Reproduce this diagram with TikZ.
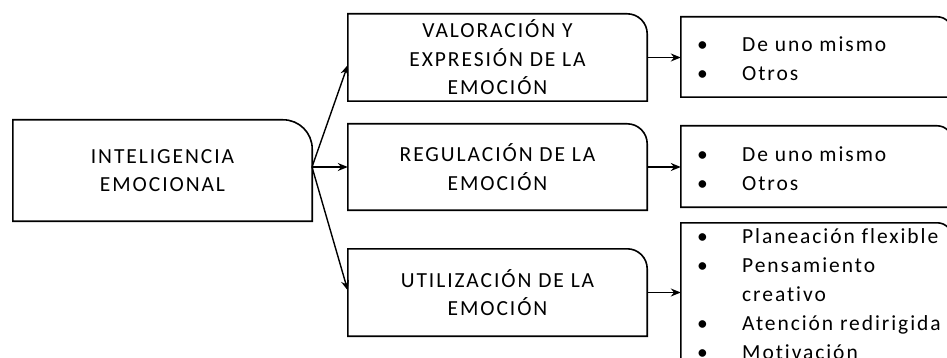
\documentclass[tikz,border=0pt]{standalone}
\usepackage{fontspec}
\setmainfont{Carlito}[LetterSpace=9, Ligatures={NoCommon}]
\usetikzlibrary{arrows.meta}
\newcommand\rtbox[2]{%
  \draw[boxline] (#2.south west) -- (#2.north west) -- ([xshift=-#1]#2.north east)
    .. controls ([xshift=-0.448*#1]#2.north east) and ([yshift=-0.448*#1]#2.north east)
    .. ([yshift=-#1]#2.north east) -- (#2.south east) -- cycle;}
\begin{document}
\begin{tikzpicture}[x=1pt,y=-1pt,
  font=\fontsize{21.5}{28.5}\selectfont,
  box/.style={inner sep=0pt, align=center},
  boxline/.style={line width=1.6pt, black},
  arr/.style={line width=1.4pt, -{Stealth[length=10pt,width=8pt]}},
  itemtext/.style={inner sep=0pt, anchor=base west}]
\useasboundingbox (0,0) rectangle (947,358);
\clip (0,0) rectangle (947,358);
\fill[white] (0,0) rectangle (947,358);

\node[box, minimum width=299pt, minimum height=101pt] (L) at (162.5,170.5) {INTELIGENCIA\\EMOCIONAL};
\node[box, minimum width=299pt, minimum height=87pt] (B2) at (497.5,57.5) {VALORACIÓN Y\\EXPRESIÓN DE LA\\EMOCIÓN};
\node[box, minimum width=299pt, minimum height=86pt] (B3) at (497.5,167) {REGULACIÓN DE LA\\EMOCIÓN};
\node[box, minimum width=299pt, minimum height=87pt] (B4) at (497.5,292.5) {UTILIZACIÓN DE LA\\EMOCIÓN};
\node[box, minimum width=271pt, minimum height=80pt] (R1) at (816.5,57) {};
\node[box, minimum width=271pt, minimum height=81pt] (R2) at (816.5,166.5) {};
\node[box, minimum width=271pt, minimum height=177pt] (R3) at (816.5,311.5) {};

\rtbox{29pt}{L}
\rtbox{20pt}{B2}
\rtbox{20pt}{B3}
\rtbox{20pt}{B4}
\rtbox{15pt}{R1}
\rtbox{15pt}{R2}
\rtbox{15pt}{R3}

\node[itemtext] (T1) at (697,52) {\begin{tabular}[t]{@{}p{45pt}@{}l@{}}\textbullet & De uno mismo\\ \textbullet & Otros\end{tabular}};
\node[itemtext] (T2) at (697,162) {\begin{tabular}[t]{@{}p{45pt}@{}l@{}}\textbullet & De uno mismo\\ \textbullet & Otros\end{tabular}};
\node[itemtext, font=\fontsize{21.5}{29}\selectfont] (T3) at (697,243) {\begin{tabular}[t]{@{}p{45pt}@{}l@{}}\textbullet & Planeación flexible\\ \textbullet & Pensamiento\\ & creativo\\ \textbullet & Atención redirigida\\ \textbullet & Motivación\end{tabular}};

\coordinate (s) at (312,167);
\draw[arr] (s) -- ([yshift=-7.5pt]B2.west);
\draw[arr] (s) -- (B3.west);
\draw[arr] (s) -- ([yshift=2pt]B4.west);
\draw[arr] (B2.east) -- (B2.east -| R1.west);
\draw[arr] (B3.east) -- (B3.east -| R2.west);
\draw[arr] (B4.east) -- (B4.east -| R3.west);
\end{tikzpicture}
\end{document}
